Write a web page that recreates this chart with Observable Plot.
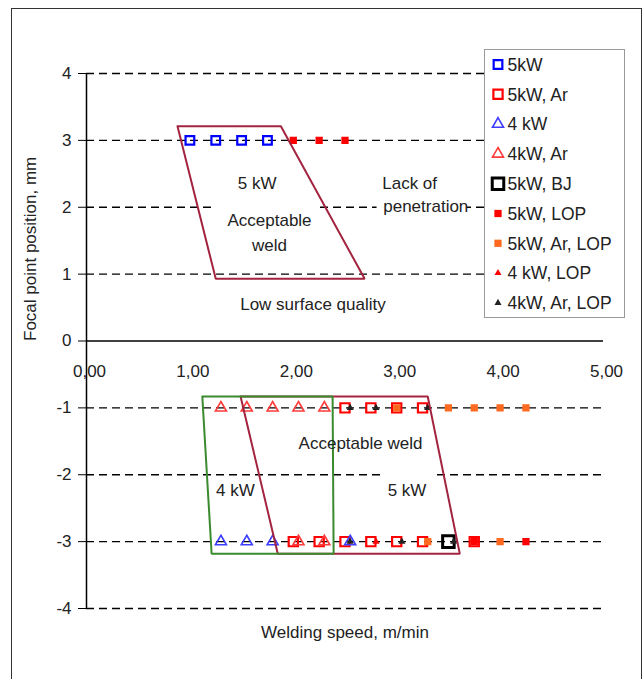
<!DOCTYPE html>
<html><head><meta charset="utf-8">
<script src="https://cdn.jsdelivr.net/npm/d3@7"></script>
<script src="https://cdn.jsdelivr.net/npm/@observablehq/plot@0.6"></script>
<style>
body{margin:0;background:#fff;}
#wrap{position:relative;width:643px;height:679px;overflow:hidden;background:#fff;}
#frame{position:absolute;left:11px;top:8px;width:631px;height:700px;border:1.5px solid #333;box-sizing:border-box;pointer-events:none;}
#legend{position:absolute;left:484px;top:49px;width:141px;height:269px;box-sizing:border-box;border:1.5px solid #999;background:#fff;}
svg{font-family:"Liberation Sans",Arial,sans-serif;}
</style></head>
<body><div id="wrap"><div id="frame"></div><div id="legend"></div></div>
<script>
// ---- axis ticks ----
const xTicks = [0, 1, 2, 3, 4, 5];
const yTicks = [-4, -3, -2, -1, 0, 1, 2, 3, 4];
const xTitle = "Welding speed, m/min";
const yTitle = "Focal point position, mm";

// ---- series (speed m/min, focal point mm) ----
const names = ["5kW", "5kW, Ar", "4 kW", "4kW, Ar", "5kW, BJ", "5kW, LOP", "5kW, Ar, LOP", "4 kW, LOP", "4kW, Ar, LOP"];
const speed5kW = [1.0, 1.25, 1.5, 1.75];
const focal5kW = [3, 3, 3, 3];
const speed5kWAr = [2.5, 2.75, 3.0, 3.25, 2.0, 2.25, 2.5, 2.75, 3.0, 3.25, 3.75];
const focal5kWAr = [-1, -1, -1, -1, -3, -3, -3, -3, -3, -3, -3];
const speed4kW = [1.3, 1.55, 1.8, 2.55];
const focal4kW = [-3, -3, -3, -3];
const speed4kWAr = [1.3, 1.55, 1.8, 2.05, 2.3, 2.05, 2.3];
const focal4kWAr = [-1, -1, -1, -1, -1, -3, -3];
const speed5kWBJ = [3.5];
const focal5kWBJ = [-3];
const speed5kWLOP = [2.0, 2.25, 2.5, 3.75, 4.25];
const focal5kWLOP = [3, 3, 3, -3, -3];
const speed5kWArLOP = [3.0, 3.5, 3.75, 4.0, 4.25, 3.3, 4.0];
const focal5kWArLOP = [-1, -1, -1, -1, -1, -3, -3];
const speed4kWLOP = [2.8];
const focal4kWLOP = [-3];
const speed4kWArLOP = [2.55, 2.8, 3.3, 2.55, 3.05, 3.55];
const focal4kWArLOP = [-1, -1, -1, -3, -3, -3];

// ---- region outlines (vertices in data units) ----
const region5kWTopX = [0.88, 1.88, 2.69, 1.25];
const region5kWTopY = [3.21, 3.21, 0.93, 0.93];
const region5kWBotX = [1.49, 3.30, 3.61, 1.85];
const region5kWBotY = [-0.83, -0.83, -3.18, -3.18];
const region4kWX = [1.12, 2.38, 2.39, 1.21];
const region4kWY = [-0.83, -0.83, -3.18, -3.18];

// ---- annotations (centred) ----
const noteText = ["5 kW", "Acceptable", "weld", "Low surface quality", "Acceptable weld", "4 kW", "5 kW"];
const noteX = [1.65, 1.77, 1.77, 2.19, 2.65, 1.44, 3.10];
const noteY = [2.36, 1.80, 1.43, 0.54, -1.54, -2.24, -2.24];
// annotations (left aligned)
const noteLeftText = ["Lack of", "penetration"];
const noteLeftX = [2.86, 2.87];
const noteLeftY = [2.36, 2.01];
// white text-box backgrounds
const boxX1 = [1.25, 2.81, 2.87];
const boxX2 = [2.22, 3.68, 3.38];
const boxY1 = [1.23, 1.85, -2.50];
const boxY2 = [2.54, 2.54, -1.93];

// ---- build ----
const seriesData = [
  [speed5kW, focal5kW], [speed5kWAr, focal5kWAr], [speed4kW, focal4kW], [speed4kWAr, focal4kWAr],
  [speed5kWBJ, focal5kWBJ], [speed5kWLOP, focal5kWLOP], [speed5kWArLOP, focal5kWArLOP],
  [speed4kWLOP, focal4kWLOP], [speed4kWArLOP, focal4kWArLOP]
];
const styles = [
  {symbol: "square", r: 4.9, stroke: "#0000ff", fill: "none", sw: 2.2},
  {symbol: "square", r: 5.2, stroke: "#ff0000", fill: "none", sw: 2.2},
  {symbol: "triangle", r: 4.1, stroke: "#3d3dff", fill: "none", sw: 1.6},
  {symbol: "triangle", r: 4.1, stroke: "#ff3b3b", fill: "none", sw: 1.6},
  {symbol: "square", r: 6.5, stroke: "#000000", fill: "none", sw: 3},
  {symbol: "square", r: 4.1, stroke: "none", fill: "#ff0000", sw: 0},
  {symbol: "square", r: 4.1, stroke: "none", fill: "#ff6a20", sw: 0},
  {symbol: "triangle", r: 2.6, stroke: "none", fill: "#ff0000", sw: 0},
  {symbol: "triangle", r: 2.6, stroke: "none", fill: "#222222", sw: 0}
];

const closed = (xs, ys) => xs.concat([xs[0]]).map((x, i) => ({x, y: ys.concat([ys[0]])[i]}));
const regions = [
  {pts: closed(region5kWTopX, region5kWTopY), color: "#a3243f"},
  {pts: closed(region5kWBotX, region5kWBotY), color: "#a3243f"},
  {pts: closed(region4kWX, region4kWY), color: "#3a8a2e"}
];
const notes = noteText.map((t, i) => ({t, x: noteX[i], y: noteY[i]}));
const notesLeft = noteLeftText.map((t, i) => ({t, x: noteLeftX[i], y: noteLeftY[i]}));
const boxes = boxX1.map((x1, i) => ({x1, x2: boxX2[i], y1: boxY1[i], y2: boxY2[i]}));
const fmtX = d => d3.format(".2f")(d).replace(".", ",");

const chart = Plot.plot({
  width: 643, height: 679,
  marginLeft: 86, marginRight: 40, marginTop: 73, marginBottom: 71,
  x: {domain: [0, 5], axis: null},
  y: {domain: [-4, 4], axis: null},
  style: {fontFamily: "'Liberation Sans', Arial, sans-serif", fontSize: "17px", color: "#222", background: "transparent"},
  marks: [
    Plot.ruleY(yTicks.filter(d => d !== 0), {y: d => d, stroke: "#000", strokeWidth: 1.4, strokeDasharray: "8,5"}),
    Plot.rect(boxes, {x1: "x1", x2: "x2", y1: "y1", y2: "y2", fill: "white"}),
    Plot.ruleY([0], {y: d => d, stroke: "#000", strokeWidth: 1.5}),
    Plot.ruleX([0], {x: d => d, stroke: "#000", strokeWidth: 1.5}),
    Plot.axisY({ticks: yTicks, tickSize: 8, tickPadding: 7, tickFormat: d => String(d), label: null, stroke: "#000"}),
    Plot.text(xTicks, {x: d => d, dx: 3, dy: 31, text: fmtX, fill: "#222"}),
    ...seriesData.map(([xs, ys], i) => {
      const s = styles[i];
      return Plot.dot(xs.map((x, j) => ({x, y: ys[j]})), {
        x: "x", y: "y", symbol: s.symbol, r: s.r, stroke: s.stroke, fill: s.fill, strokeWidth: s.sw
      });
    }),
    ...regions.map(r => Plot.line(r.pts, {x: "x", y: "y", stroke: r.color, strokeWidth: 2, strokeLinejoin: "miter"})),
    Plot.text(notes, {x: "x", y: "y", text: "t", fill: "#222"}),
    Plot.text(notesLeft, {x: "x", y: "y", text: "t", textAnchor: "start", fill: "#222"}),
    Plot.text([xTitle], {frameAnchor: "bottom", dy: 29, text: d => d, fill: "#222"}),
    Plot.text([yTitle], {frameAnchor: "left", dx: -56, rotate: -90, text: d => d, fill: "#222"})
  ]
});
document.getElementById("wrap").insertBefore(chart, document.getElementById("frame"));
chart.style.position = "absolute"; chart.style.left = "0"; chart.style.top = "0";

// ---- legend ----
const lg = d3.select("#legend").append("svg").attr("width", 138).attr("height", 266);
names.forEach((n, i) => {
  const s = styles[i];
  const cy = 14.5 + i * 29.8;
  const sym = s.symbol === "square" ? d3.symbolSquare : d3.symbolTriangle;
  lg.append("path")
    .attr("d", d3.symbol(sym, Math.PI * s.r * s.r)())
    .attr("transform", `translate(13,${cy})`)
    .attr("fill", s.fill).attr("stroke", s.stroke).attr("stroke-width", s.sw);
  lg.append("text").attr("x", 22.5).attr("y", cy).attr("dy", "0.36em")
    .attr("font-size", 17.5).attr("fill", "#222").text(n);
});
</script>
</body></html>
